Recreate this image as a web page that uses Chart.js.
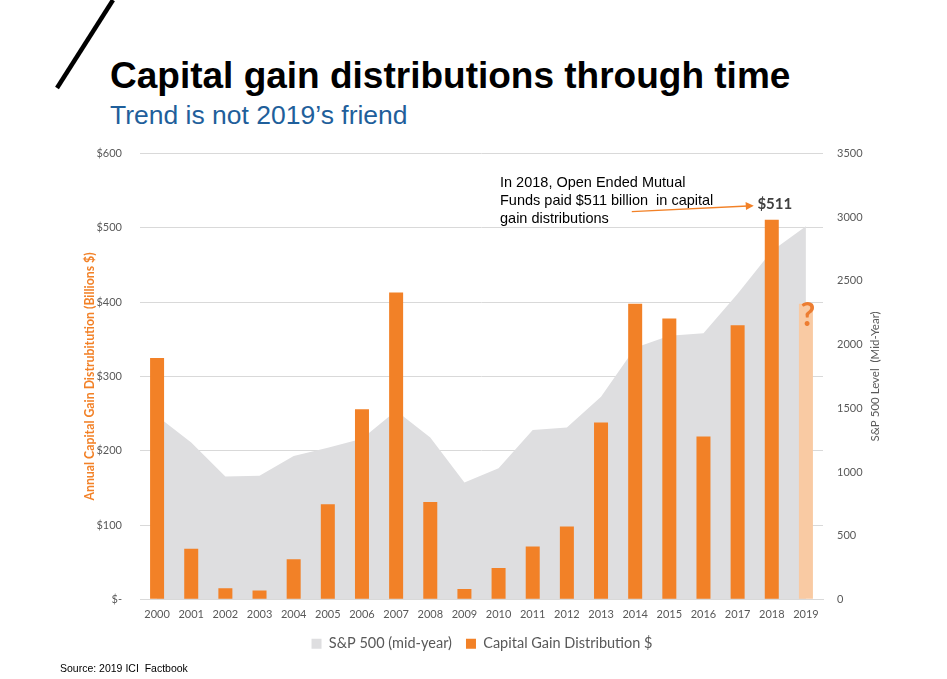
<!DOCTYPE html>
<html>
<head>
<meta charset="utf-8">
<script src="https://cdn.jsdelivr.net/npm/chart.js@4"></script>
<style>
  html, body { margin: 0; padding: 0; background: #fff; }
  body { width: 947px; height: 679px; position: relative; overflow: hidden; font-family: "Liberation Sans", Arial, sans-serif; }
  .slash { position: absolute; left: 0; top: 0; }
  .title { position: absolute; left: 110px; top: 55px; font-size: 37px; font-weight: bold; color: #000; white-space: nowrap; }
  .subtitle { position: absolute; left: 110px; top: 100px; font-size: 26.5px; color: #1f5f9b; white-space: nowrap; }
  .note { position: absolute; left: 500px; top: 173px; font-size: 14.5px; line-height: 18px; color: #000; white-space: nowrap; }
  .source { position: absolute; left: 60px; top: 662px; font-size: 10.5px; color: #000; white-space: nowrap; }
  .chart-box { position: absolute; left: 0; top: 129px; width: 947px; height: 536px; }
</style>
</head>
<body>
<svg class="slash" width="130" height="95"><line x1="113" y1="0" x2="57" y2="88" stroke="#000" stroke-width="4.5"/></svg>
<div class="title">Capital gain distributions through time</div>
<div class="subtitle">Trend is not 2019’s friend</div>
<div class="chart-box"><canvas id="cgChart"></canvas></div>
<div class="note">In 2018, Open Ended Mutual<br>Funds paid $511 billion&nbsp; in capital<br>gain distributions</div>
<div class="source">Source: 2019 ICI&nbsp; Factbook</div>

<script>
// values
const years = ['2000', '2001', '2002', '2003', '2004', '2005', '2006', '2007', '2008', '2009',
               '2010', '2011', '2012', '2013', '2014', '2015', '2016', '2017', '2018', '2019'];
const capGains = [325, 68, 15, 12, 54, 128, 256, 413, 131, 14,
                  42, 71, 98, 238, 398, 378, 219, 369, 511, 398];
const sp500 = [1440, 1232, 965, 970, 1125, 1190, 1260, 1480, 1270, 918,
               1030, 1330, 1350, 1590, 1975, 2070, 2090, 2400, 2735, 2930];
const leftMax = 600, leftStep = 100;
const rightMax = 3500, rightStep = 500;

const ORANGE = '#f28127';
const ORANGE_LIGHT = '#f9caa3';
const GREY_AREA = '#dedee0';
const TEXT = '#595959';

// labels, arrow, question mark and right-hand axis title
const overlay = {
    id: 'overlay',
    afterDatasetsDraw(chart) {
        const ctx = chart.ctx;
        const bars = chart.getDatasetMeta(1).data;
        const b18 = bars[18], b19 = bars[19];
        const area = chart.chartArea;

        ctx.save();
        ctx.font = 'bold 15px Lato';
        ctx.fillStyle = '#404040';
        ctx.textAlign = 'center';
        ctx.textBaseline = 'bottom';
        ctx.fillText('$' + capGains[18], b18.x + 3, b18.y - 8);

        const ex = b18.x - 18, ey = b18.y - 14;
        const sx = ex - 122, sy = ey + 6;
        const ang = Math.atan2(ey - sy, ex - sx);
        ctx.strokeStyle = ORANGE;
        ctx.fillStyle = ORANGE;
        ctx.lineWidth = 1.3;
        ctx.beginPath();
        ctx.moveTo(sx, sy);
        ctx.lineTo(ex - 6 * Math.cos(ang), ey - 6 * Math.sin(ang));
        ctx.stroke();
        ctx.beginPath();
        ctx.moveTo(ex, ey);
        ctx.lineTo(ex - 8 * Math.cos(ang) + 4 * Math.sin(ang), ey - 8 * Math.sin(ang) - 4 * Math.cos(ang));
        ctx.lineTo(ex - 8 * Math.cos(ang) - 4 * Math.sin(ang), ey - 8 * Math.sin(ang) + 4 * Math.cos(ang));
        ctx.closePath();
        ctx.fill();

        ctx.font = 'bold 32px Lato';
        ctx.fillStyle = '#ed7d31';
        ctx.textAlign = 'center';
        ctx.textBaseline = 'top';
        ctx.fillText('?', b19.x + 2, b19.y - 4);

        ctx.translate(area.right + 52, (area.top + area.bottom) / 2);
        ctx.rotate(-Math.PI / 2);
        ctx.font = '11.5px Lato';
        ctx.fillStyle = TEXT;
        ctx.textBaseline = 'middle';
        ctx.fillText('S&P 500 Level  (Mid-Year)', 0, 0);
        ctx.restore();
    }
};

Chart.defaults.font.family = 'Lato';
Chart.defaults.color = TEXT;

new Chart(document.getElementById('cgChart').getContext('2d'), {
    data: {
        labels: years,
        datasets: [
            {
                type: 'line',
                label: 'S&P 500 (mid-year)',
                data: sp500,
                yAxisID: 'y1',
                fill: 'origin',
                backgroundColor: GREY_AREA,
                borderColor: GREY_AREA,
                borderWidth: 0,
                pointRadius: 0,
                tension: 0,
                order: 2
            },
            {
                type: 'bar',
                label: 'Capital Gain Distribution $',
                data: capGains,
                yAxisID: 'y',
                backgroundColor: c => (c.dataIndex === 19 ? ORANGE_LIGHT : ORANGE),
                categoryPercentage: 0.82,
                barPercentage: 0.5,
                order: 1
            }
        ]
    },
    options: {
        responsive: true,
        maintainAspectRatio: false,
        animation: false,
        layout: { padding: { left: 17, right: 0, top: 8, bottom: 4 } },
        plugins: {
            tooltip: { enabled: false },
            legend: {
                position: 'bottom',
                labels: {
                    boxWidth: 10,
                    boxHeight: 10,
                    padding: 14,
                    color: TEXT,
                    font: { size: 14.5 },
                    sort: (a, b) => a.datasetIndex - b.datasetIndex
                }
            }
        },
        scales: {
            x: {
                grid: { display: false },
                border: { display: true, color: '#d9d9d9' },
                ticks: { font: { size: 11 }, color: TEXT, maxRotation: 0, autoSkip: false, padding: 1 }
            },
            y: {
                position: 'left',
                min: 0,
                max: leftMax,
                afterFit: s => { s.width = 123; },
                grid: { color: '#d9d9d9', drawTicks: false },
                border: { display: false },
                title: {
                    display: true,
                    text: 'Annual Capital Gain Distrubitution (Billions $)',
                    color: ORANGE,
                    font: { size: 12.3, weight: 'bold' },
                    padding: { top: 66, bottom: 0 }
                },
                ticks: {
                    stepSize: leftStep,
                    padding: 18,
                    font: { size: 11 },
                    color: TEXT,
                    callback: v => (v === 0 ? '$-' : '$' + v)
                }
            },
            y1: {
                position: 'right',
                min: 0,
                max: rightMax,
                afterFit: s => { s.width = 124; },
                grid: { display: false },
                border: { display: false },
                ticks: { stepSize: rightStep, padding: 6, font: { size: 11 }, color: TEXT, callback: v => String(v) }
            }
        }
    },
    plugins: [overlay]
});
</script>
</body>
</html>
